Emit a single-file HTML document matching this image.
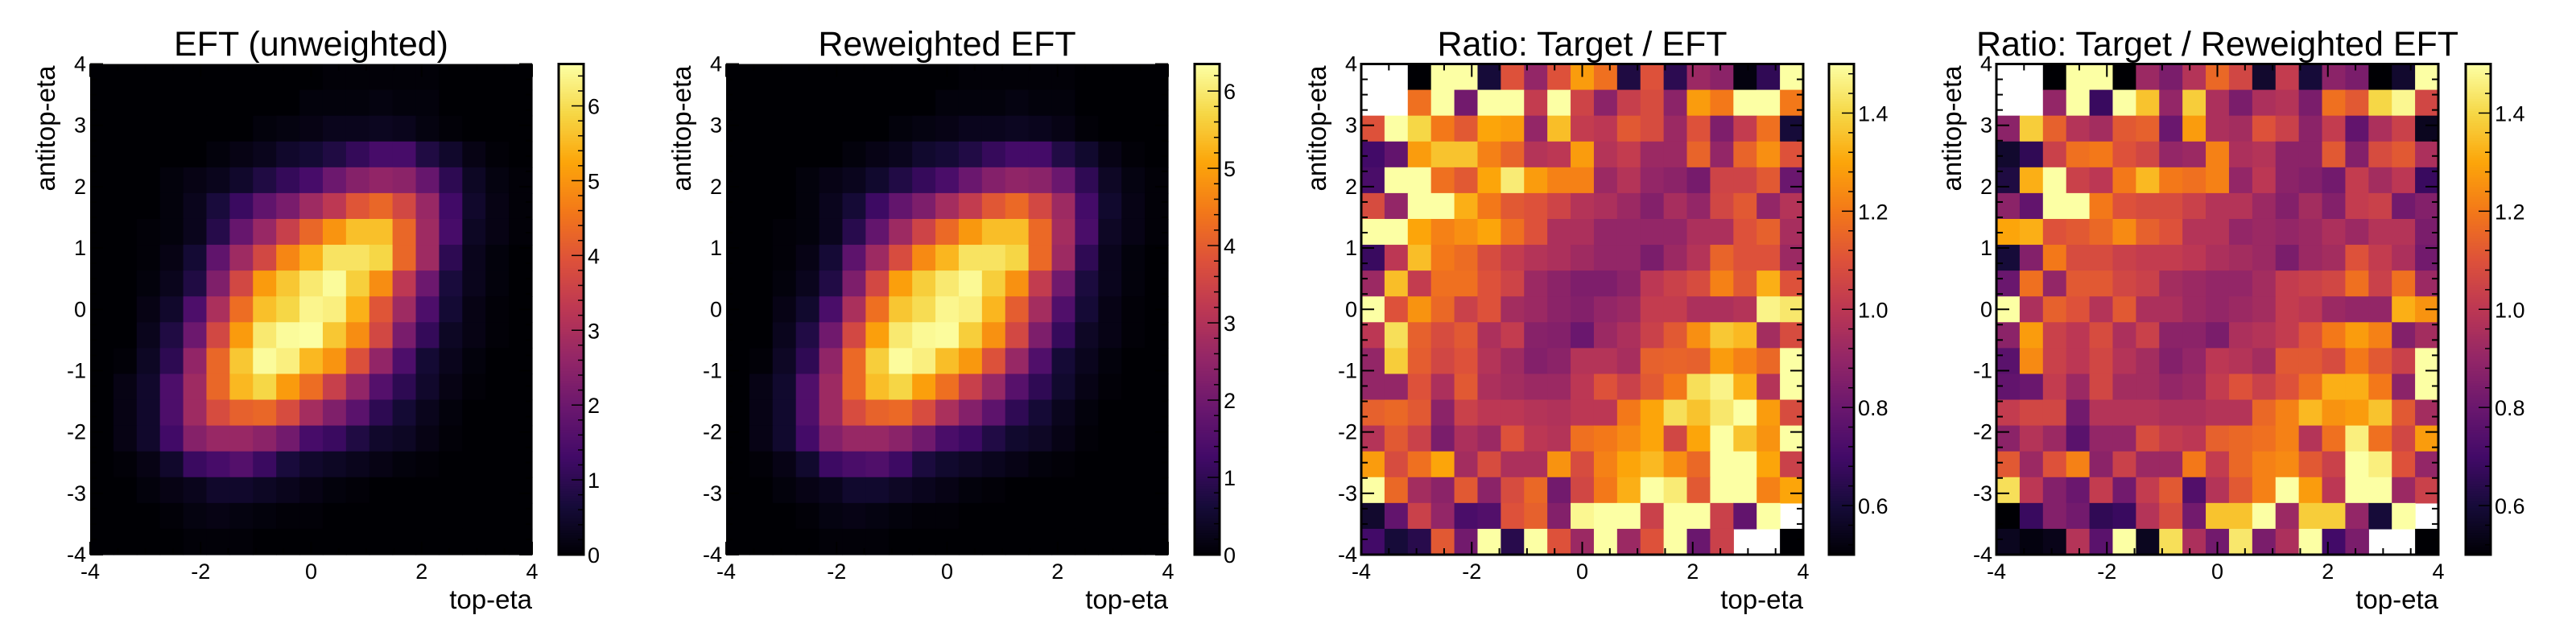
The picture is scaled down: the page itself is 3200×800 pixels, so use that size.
<!DOCTYPE html>
<html><head><meta charset="utf-8"><style>
html,body{margin:0;padding:0;background:#fff;}
svg{display:block;font-family:"Liberation Sans",Arial,sans-serif;}
</style></head><body>
<svg id="chart" width="3200" height="800" viewBox="0 0 3200 800" xmlns="http://www.w3.org/2000/svg"></svg>
<script>
// ---- data (rows listed from top: antitop-eta ~ +4 down to -4; columns top-eta -4 .. +4) ----
const nBins = 19;
const axisMin = -4, axisMax = 4;
const xTickLabels = ["-4","-2","0","2","4"];
const yTickLabels = ["-4","-3","-2","-1","0","1","2","3","4"];
const panelTitles = ["EFT (unweighted)","Reweighted EFT","Ratio: Target / EFT","Ratio: Target / Reweighted EFT"];
const zRange1 = [0, 6.56];
const zRange2 = [0, 6.35];
const zRangeRatio = [0.5, 1.5];
const cbTicksEFT = ["0","1","2","3","4","5","6"];
const cbTicksRatio = ["0.6","0.8","1.0","1.2","1.4"];

const eftUnweighted = [
[0,0,0,0,0,0,0,0,0,0,0.05,0.05,0.05,0.05,0.05,0,0,0,0],
[0,0,0,0,0,0,0,0,0,0.1,0.1,0.1,0.15,0.1,0.1,0,0,0,0],
[0,0,0,0,0,0,0,0.1,0.15,0.2,0.3,0.3,0.35,0.3,0.15,0.05,0,0,0],
[0,0,0,0,0,0.1,0.2,0.3,0.5,0.6,0.8,1.1,1.4,1.4,0.8,0.5,0.2,0.05,0],
[0,0,0,0.1,0.2,0.3,0.5,0.8,1.1,1.4,2.0,2.4,2.6,2.5,1.9,1.0,0.4,0.15,0.05],
[0,0,0,0.1,0.3,0.7,1.2,1.8,2.2,2.8,3.3,4.0,4.3,3.7,2.7,1.3,0.5,0.2,0.05],
[0,0,0.05,0.1,0.3,0.9,1.9,2.7,3.5,4.3,5.0,5.6,5.6,4.3,2.8,1.4,0.4,0.2,0.05],
[0,0,0.05,0.2,0.6,1.8,2.8,3.7,4.8,5.4,6.1,6.1,5.9,4.3,2.8,1.0,0.3,0.1,0],
[0,0,0.1,0.3,0.8,2.3,3.7,5.1,5.7,6.2,6.5,5.8,4.9,3.3,2.0,0.7,0.3,0.1,0],
[0,0,0.2,0.5,1.5,3.0,4.4,5.6,5.9,6.4,6.3,5.4,4.0,2.8,1.5,0.6,0.2,0.05,0],
[0,0,0.3,0.8,2.0,3.7,5.1,6.2,6.5,6.55,5.7,4.9,3.7,2.2,1.1,0.4,0.2,0.05,0],
[0,0.05,0.4,1.0,2.6,4.3,5.7,6.5,6.3,5.5,5.0,3.9,2.6,1.5,0.6,0.3,0.1,0,0],
[0,0.2,0.5,1.5,2.8,4.3,5.5,5.9,5.1,4.4,3.5,2.6,1.6,1.0,0.5,0.2,0.05,0,0],
[0,0.2,0.5,1.5,2.8,3.8,4.2,4.3,3.8,2.9,2.3,1.7,1.0,0.6,0.3,0.1,0,0,0],
[0,0.2,0.5,1.3,2.4,2.7,2.7,2.5,2.1,1.4,1.2,0.8,0.5,0.4,0.2,0.05,0,0,0],
[0,0.05,0.2,0.5,1.2,1.4,1.6,1.2,0.7,0.5,0.4,0.3,0.2,0.1,0.05,0,0,0,0],
[0,0,0.1,0.2,0.3,0.5,0.5,0.4,0.3,0.2,0.1,0.05,0,0,0,0,0,0,0],
[0,0,0,0.05,0.15,0.2,0.15,0.1,0.05,0.05,0,0,0,0,0,0,0,0,0],
[0,0,0,0,0.05,0.05,0.05,0,0,0,0,0,0,0,0,0,0,0,0]
];
const eftReweighted = [
[0,0,0,0,0,0,0,0,0,0,0.05,0.05,0.05,0.05,0.05,0,0,0,0],
[0,0,0,0,0,0,0,0,0,0.1,0.1,0.1,0.15,0.1,0.1,0,0,0,0],
[0,0,0,0,0,0,0,0.1,0.15,0.2,0.3,0.3,0.35,0.3,0.2,0.05,0,0,0],
[0,0,0,0,0,0.1,0.2,0.3,0.5,0.6,0.8,1.1,1.3,1.3,0.8,0.5,0.2,0.05,0],
[0,0,0,0.1,0.2,0.3,0.5,0.8,1.1,1.4,1.9,2.3,2.5,2.4,1.9,1.0,0.4,0.15,0.05],
[0,0,0,0.1,0.3,0.6,1.2,1.8,2.2,2.8,3.3,3.9,4.2,3.6,2.7,1.3,0.5,0.2,0.05],
[0,0,0.05,0.1,0.3,0.9,1.8,2.7,3.5,4.2,4.9,5.4,5.4,4.2,2.8,1.4,0.4,0.2,0.05],
[0,0,0.05,0.2,0.6,1.7,2.7,3.7,4.7,5.3,5.9,5.9,5.7,4.2,2.7,1.0,0.3,0.1,0],
[0,0,0.1,0.3,0.8,2.2,3.6,5.0,5.6,6.0,6.25,5.6,4.8,3.3,2.0,0.7,0.3,0.1,0],
[0,0,0.2,0.5,1.4,2.9,4.3,5.5,5.8,6.2,6.1,5.3,4.0,2.8,1.5,0.6,0.2,0.05,0],
[0,0,0.3,0.8,2.0,3.6,5.0,6.0,6.25,6.3,5.6,4.8,3.6,2.2,1.1,0.4,0.2,0.05,0],
[0,0.05,0.4,1.0,2.5,4.2,5.6,6.3,6.1,5.4,4.9,3.8,2.6,1.5,0.6,0.3,0.1,0,0],
[0,0.2,0.5,1.5,2.7,4.2,5.4,5.7,5.0,4.3,3.4,2.6,1.6,1.0,0.5,0.2,0.05,0,0],
[0,0.2,0.5,1.5,2.7,3.7,4.1,4.2,3.7,2.9,2.3,1.7,1.0,0.6,0.3,0.1,0,0,0],
[0,0.2,0.5,1.3,2.3,2.6,2.6,2.4,2.0,1.4,1.2,0.8,0.5,0.4,0.2,0.05,0,0,0],
[0,0.05,0.2,0.5,1.2,1.4,1.5,1.2,0.7,0.5,0.4,0.3,0.2,0.1,0.05,0,0,0,0],
[0,0,0.1,0.2,0.3,0.5,0.5,0.4,0.3,0.2,0.1,0.05,0,0,0,0,0,0,0],
[0,0,0,0.05,0.15,0.2,0.15,0.1,0.05,0.05,0,0,0,0,0,0,0,0,0],
[0,0,0,0,0.05,0.05,0.05,0,0,0,0,0,0,0,0,0,0,0,0]
];
const ratioEFT = [
[2,2,0.5,1.5,1.5,0.6,1.1,0.9,1.1,1.28,1.18,0.62,1.1,0.65,0.92,0.88,0.52,0.66,1.5],
[2,2,1.18,1.5,0.82,1.5,1.5,1.02,1.5,1.05,0.88,1.03,1.08,0.88,1.28,1.2,1.5,1.5,1.2],
[1.1,1.5,1.4,1.2,1.12,1.3,1.28,0.9,1.35,1.02,1.0,1.12,1.08,0.92,1.1,0.85,1.02,1.18,0.6],
[0.7,0.78,1.28,1.36,1.36,1.22,1.15,0.98,1.0,1.28,0.98,1.02,0.92,0.92,1.15,0.9,1.15,1.25,1.1],
[0.72,1.5,1.5,1.18,1.12,1.3,1.45,1.28,1.22,1.22,0.92,0.98,0.9,0.88,0.83,1.05,1.05,1.12,0.8],
[1.08,0.9,1.5,1.5,1.32,1.2,1.12,1.1,1.05,0.98,0.96,0.92,0.86,0.95,0.9,1.06,1.12,0.9,0.98],
[1.5,1.5,1.3,1.22,1.25,1.3,1.18,1.1,0.96,0.96,0.9,0.9,0.9,0.9,0.96,0.96,1.1,1.14,0.95],
[0.68,1.0,1.35,1.2,1.17,1.08,1.02,0.98,0.96,0.93,0.9,0.9,0.84,0.92,0.98,1.15,1.1,1.1,0.92],
[0.92,1.35,1.02,1.18,1.18,1.1,1.05,0.92,0.88,0.85,0.85,0.88,1.0,1.04,1.08,1.22,1.12,1.32,1.1],
[1.5,1.1,1.26,1.16,1.04,1.1,0.94,0.92,0.88,0.86,0.9,0.92,1.02,1.02,0.96,0.96,0.98,1.47,1.44],
[1.0,1.42,1.14,1.08,1.12,0.96,1.02,0.87,0.86,0.8,0.92,0.96,1.04,1.12,1.25,1.37,1.34,0.94,1.08],
[0.9,1.38,1.13,1.06,1.1,0.98,0.93,0.86,0.88,0.98,0.98,0.95,1.14,1.15,1.14,1.28,1.22,1.16,1.5],
[0.9,0.9,1.1,0.96,1.12,0.96,0.94,0.92,0.92,1.0,1.1,1.04,1.12,1.2,1.42,1.47,1.32,0.98,1.5],
[1.14,1.16,1.12,0.88,1.04,1.0,1.0,0.98,0.97,1.0,1.0,1.2,1.3,1.42,1.36,1.44,1.5,1.28,1.08],
[0.98,1.12,1.04,0.84,0.96,0.92,1.1,1.0,0.98,1.18,1.2,1.24,1.3,1.06,1.3,1.5,1.36,1.26,1.5],
[1.28,1.08,1.18,1.3,0.94,1.08,0.96,0.96,1.26,1.08,1.22,1.3,1.34,1.25,1.16,1.5,1.5,1.3,1.04],
[1.5,1.16,0.94,0.88,1.12,0.88,1.08,1.16,0.82,1.06,1.2,1.32,1.5,1.45,1.12,1.5,1.5,1.22,1.3],
[0.58,0.78,1.04,0.9,0.72,0.74,1.1,1.14,0.86,1.48,1.5,1.5,1.04,1.5,1.5,1.04,0.78,1.5,2],
[0.7,0.6,0.64,1.12,0.82,1.5,0.64,1.5,1.1,0.92,1.5,0.92,1.1,1.5,0.8,1.04,2,2,0.5]
];
const ratioReweighted = [
[2,2,0.5,1.5,1.5,0.5,0.92,0.84,0.98,1.16,1.06,0.58,1.02,0.6,0.88,0.84,0.5,0.58,1.5],
[2,2,0.9,1.5,0.68,1.5,1.36,0.9,1.38,0.96,0.84,0.96,0.98,0.84,1.18,1.12,1.4,1.48,1.06],
[0.88,1.38,1.14,0.98,0.94,1.12,1.14,0.8,1.28,0.96,0.94,1.1,1.04,0.88,1.02,0.78,0.96,1.04,0.55],
[0.58,0.66,1.04,1.18,1.2,1.1,1.06,0.9,0.92,1.22,0.96,0.98,0.88,0.88,1.12,0.86,1.08,1.12,0.96],
[0.62,1.32,1.5,1.04,1.0,1.2,1.34,1.2,1.18,1.22,0.9,1.0,0.88,0.86,0.82,1.02,0.94,1.0,0.68],
[0.88,0.78,1.5,1.5,1.2,1.1,1.08,1.08,1.04,0.98,0.98,0.92,0.86,0.94,0.86,1.02,1.04,0.82,0.86],
[1.3,1.32,1.1,1.12,1.16,1.24,1.14,1.1,0.98,0.98,0.9,0.92,0.9,0.92,0.96,0.92,0.98,0.98,0.84],
[0.6,0.86,1.2,1.08,1.08,1.04,1.02,1.02,1.0,0.96,0.94,0.92,0.84,0.92,0.94,1.1,1.02,0.96,0.82],
[0.8,1.18,0.9,1.12,1.12,1.06,1.04,0.94,0.92,0.9,0.9,0.94,1.02,1.04,1.06,1.18,1.04,1.18,0.92],
[1.5,0.96,1.14,1.1,0.98,1.12,0.96,0.96,0.92,0.9,0.92,0.94,1.02,1.0,0.92,0.9,0.9,1.32,1.26],
[0.88,1.28,1.04,1.0,1.08,0.96,1.04,0.88,0.88,0.84,0.96,0.98,1.02,1.1,1.2,1.28,1.22,0.86,0.94],
[0.76,1.24,1.04,1.0,1.06,0.98,0.94,0.86,0.9,1.0,0.98,0.94,1.12,1.12,1.08,1.2,1.12,1.04,1.5],
[0.78,0.8,1.02,0.92,1.06,0.94,0.94,0.9,0.92,1.02,1.1,1.04,1.1,1.18,1.32,1.32,1.2,0.88,1.5],
[1.02,1.06,1.06,0.82,0.98,0.98,0.98,0.96,0.96,0.98,0.98,1.16,1.22,1.34,1.26,1.28,1.36,1.12,0.94],
[0.88,0.98,0.92,0.76,0.9,0.9,1.08,1.02,1.0,1.14,1.16,1.18,1.22,0.98,1.18,1.46,1.18,1.06,1.28],
[1.12,0.92,1.1,1.22,0.88,1.04,0.92,0.92,1.2,1.02,1.16,1.22,1.24,1.12,1.04,1.5,1.46,1.1,0.9],
[1.42,1.0,0.86,0.8,1.02,0.82,1.02,1.12,0.74,0.98,1.12,1.22,1.5,1.28,1.0,1.5,1.5,0.92,1.04],
[0.5,0.68,0.86,0.82,0.66,0.68,0.98,1.08,0.82,1.36,1.36,1.5,0.92,1.38,1.38,0.9,0.6,1.5,2],
[0.55,0.52,0.54,0.98,0.76,1.5,0.55,1.42,0.96,0.82,1.44,0.84,0.96,1.5,0.7,0.84,2,2,0.5]
];

// ---- rendering ----
const NS = "http://www.w3.org/2000/svg";
const svg = document.getElementById("chart");
const infernoStops = [[0,0,0,4],[0.1,22,11,57],[0.2,66,10,104],[0.3,106,23,110],[0.4,147,38,103],[0.5,188,55,84],[0.6,221,81,58],[0.7,243,120,25],[0.8,252,165,10],[0.9,246,215,70],[1,252,255,164]];
function inferno(t){
  t = Math.max(0, Math.min(1, t));
  for (let i = 1; i < infernoStops.length; i++) {
    const a = infernoStops[i-1], b = infernoStops[i];
    if (t <= b[0]) {
      const f = (t - a[0]) / (b[0] - a[0]);
      return `rgb(${Math.round(a[1]+f*(b[1]-a[1]))},${Math.round(a[2]+f*(b[2]-a[2]))},${Math.round(a[3]+f*(b[3]-a[3]))})`;
    }
  }
  return "rgb(252,255,164)";
}
function mk(tag, attrs, parent){
  const e = document.createElementNS(NS, tag);
  for (const k in attrs) e.setAttribute(k, attrs[k]);
  (parent || svg).appendChild(e);
  return e;
}
const plotTop = 79.5, plotH = 609.5, plotW = 549;
const panels = [
  {x:112, cb:694, data:eftUnweighted, z:zRange1, cbTicks:cbTicksEFT, frame:false},
  {x:902, cb:1484, data:eftReweighted, z:zRange2, cbTicks:cbTicksEFT, frame:false},
  {x:1691, cb:2272, data:ratioEFT, z:zRangeRatio, cbTicks:cbTicksRatio, frame:true},
  {x:2480, cb:3063, data:ratioReweighted, z:zRangeRatio, cbTicks:cbTicksRatio, frame:true}
];
panels.forEach((p, pi) => {
  const g = mk("g", {});
  
  
  const xs = v => p.x + (v - axisMin) / (axisMax - axisMin) * plotW;
  const ys = v => plotTop + plotH - (v - axisMin) / (axisMax - axisMin) * plotH;
  const bw = (axisMax - axisMin) / nBins;
  mk("rect", {x:p.x, y:plotTop, width:plotW, height:plotH, fill:"#fff"}, g);
  p.data.forEach((row, ri) => {
    const yLo = axisMax - (ri+1)*bw;
    row.forEach((v, ci) => {
      if (v > p.z[1] + 1e-9) return;
      const xLo = axisMin + ci*bw;
      const x0 = xs(xLo), x1 = xs(xLo+bw), y0 = ys(yLo+bw), y1 = ys(yLo);
      const r = mk("rect", {x:x0.toFixed(2), y:y0.toFixed(2), width:(x1-x0+0.6).toFixed(2), height:(y1-y0+0.6).toFixed(2),
        fill: inferno((v - p.z[0])/(p.z[1]-p.z[0]))}, g);
      
      
    });
  });
  const axG = mk("g", {stroke:"#000", "stroke-width":2}, g);
  if (p.frame) mk("rect", {x:p.x, y:plotTop, width:plotW, height:plotH, fill:"none", "stroke-width":3}, axG);
  for (let v = axisMin; v <= axisMax + 1e-9; v += 0.5) {
    const major = Math.abs(v % 2) < 1e-9;
    const L = major ? 16 : 8;
    mk("line", {x1:xs(v), x2:xs(v), y1:plotTop+plotH, y2:plotTop+plotH-L}, axG);
    mk("line", {x1:xs(v), x2:xs(v), y1:plotTop, y2:plotTop+L}, axG);
  }
  for (let v = axisMin; v <= axisMax + 1e-9; v += 0.25) {
    const major = Math.abs(v - Math.round(v)) < 1e-9;
    const L = major ? 16 : 8;
    mk("line", {x1:p.x, x2:p.x+L, y1:ys(v), y2:ys(v)}, axG);
    mk("line", {x1:p.x+plotW, x2:p.x+plotW-L, y1:ys(v), y2:ys(v)}, axG);
  }
  xTickLabels.forEach(s => {
    const t = mk("text", {x:xs(+s), y:719, "font-size":27, "text-anchor":"middle"}, g);
    t.textContent = s;
    
    
  });
  yTickLabels.forEach(s => {
    const t = mk("text", {x:p.x-5, y:ys(+s)+9, "font-size":27, "text-anchor":"end"}, g);
    t.textContent = s;
    
    
  });
  const tt = mk("text", {x:p.x+plotW/2, y:69, "font-size":43, "text-anchor":"middle"}, g);
  tt.textContent = panelTitles[pi];
  
  
  const xt = mk("text", {x:p.x+plotW, y:756, "font-size":33, "text-anchor":"end"}, g);
  xt.textContent = "top-eta";
  
  
  const yt = mk("text", {x:0, y:0, "font-size":33, "text-anchor":"end", transform:`translate(${p.x-44},${plotTop+2}) rotate(-90)`}, g);
  yt.textContent = "antitop-eta";
  
  
  const cbW = 31;
  const cg = mk("g", {}, g);
  
  
  const steps = 200;
  for (let i = 0; i < steps; i++) {
    const y0 = plotTop + plotH - (i+1)/steps*plotH;
    mk("rect", {x:p.cb, y:y0.toFixed(2), width:cbW, height:(plotH/steps+0.6).toFixed(2), fill:inferno((i+0.5)/steps)}, cg);
  }
  mk("rect", {x:p.cb, y:plotTop, width:cbW, height:plotH, fill:"none", stroke:"#000", "stroke-width":3}, cg);
  const zs = v => plotTop + plotH - (v - p.z[0])/(p.z[1]-p.z[0])*plotH;
  const majorStep = +p.cbTicks[1] - +p.cbTicks[0];
  const minorStep = majorStep / 5;
  for (let v = +p.cbTicks[0] - majorStep; v <= p.z[1] + 1e-9; v += minorStep) {
    if (v < p.z[0] - 1e-9) continue;
    const isMajor = p.cbTicks.some(s => Math.abs(+s - v) < 1e-6);
    mk("line", {x1:p.cb+cbW, x2:p.cb+cbW-(isMajor?15:7), y1:zs(v), y2:zs(v), stroke:"#000", "stroke-width":1.5}, cg);
  }
  p.cbTicks.forEach(s => {
    const t = mk("text", {x:p.cb+cbW+5, y:zs(+s)+10, "font-size":27}, cg);
    t.textContent = s;
    
    
  });
});
</script>
</body></html>
